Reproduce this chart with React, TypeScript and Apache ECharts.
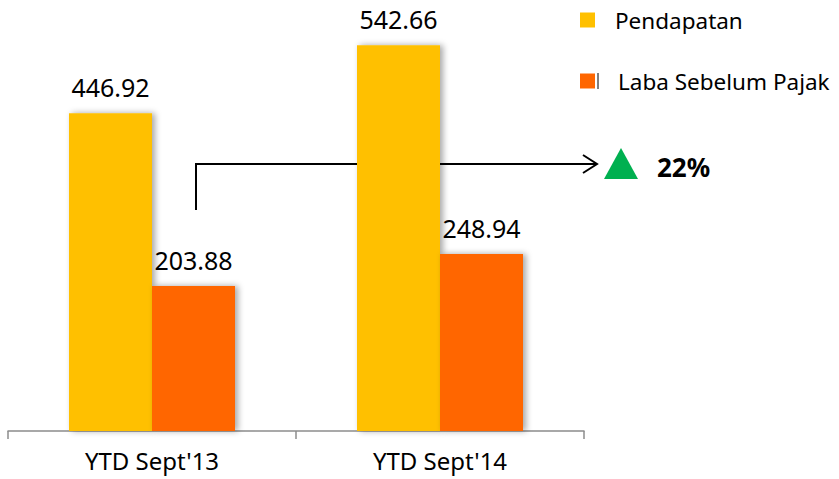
import React, { useEffect, useRef } from "react";
import * as echarts from "echarts";

const categories = ["YTD Sept'13", "YTD Sept'14"];
const pendapatan = [446.92, 542.66];
const labaSebelumPajak = [203.88, 248.94];
const seriesNames = ["Pendapatan", "Laba Sebelum Pajak"];
const growthLabel = "22%";

const FONT = "Noto Sans";

export default function App() {
  const ref = useRef<HTMLDivElement>(null);
  useEffect(() => {
    document.body.style.margin = "0";
    const chart = echarts.init(ref.current!, null, { renderer: "svg" });
    const labelStyle = {
      show: true,
      position: "top" as const,
      distance: 14,
      fontFamily: FONT,
      fontSize: 25,
      color: "#000",
      formatter: (p: any) => p.value.toFixed(2),
    };
    const shadow = {
      shadowBlur: 6,
      shadowOffsetX: 3,
      shadowOffsetY: 0,
      shadowColor: "rgba(0,0,0,0.35)",
    };
    chart.setOption({
      animation: false,
      grid: { left: 8, right: 255, top: 4.5, bottom: 48, containLabel: false },
      xAxis: {
        type: "category",
        data: categories,
        axisLine: { lineStyle: { color: "#8c8c8c", width: 1.5 } },
        axisTick: { show: true, length: 8, lineStyle: { color: "#8c8c8c", width: 1.5 } },
        axisLabel: { fontFamily: FONT, fontSize: 24, color: "#000", margin: 17 },
      },
      yAxis: { type: "value", min: 0, max: 600, show: false, splitLine: { show: false } },
      legend: {
        orient: "vertical",
        left: 575,
        top: 3,
        itemWidth: 15,
        itemHeight: 15,
        itemGap: 37,
        icon: "rect",
        textStyle: { fontFamily: FONT, fontSize: 22.5, color: "#000", lineHeight: 24 },
        data: [
          { name: seriesNames[0], textStyle: { padding: [0, 0, 0, 15] } },
          { name: seriesNames[1], textStyle: { padding: [0, 0, 0, 18] } },
        ],
      },
      series: [
        {
          name: seriesNames[0],
          type: "bar",
          data: pendapatan,
          barWidth: 83,
          barGap: "0%",
          itemStyle: { color: "#FFC000", ...shadow },
          label: labelStyle,
        },
        {
          name: seriesNames[1],
          type: "bar",
          data: labaSebelumPajak,
          barWidth: 83,
          barGap: "0%",
          itemStyle: { color: "#FF6600", ...shadow },
          label: labelStyle,
        },
      ],
      graphic: [
        {
          type: "line",
          shape: { x1: 598, y1: 73, x2: 598, y2: 89 },
          style: { stroke: "#000", lineWidth: 1 },
        },
        {
          type: "polyline",
          shape: { points: [[196, 210], [196, 164], [597, 164]] },
          style: { stroke: "#000", lineWidth: 2, fill: null },
        },
        {
          type: "polyline",
          shape: { points: [[583, 155], [597, 164], [583, 173]] },
          style: { stroke: "#000", lineWidth: 2, fill: null },
        },
        {
          type: "polygon",
          shape: { points: [[604, 179], [621, 148], [638, 179]] },
          style: { fill: "#00B050" },
        },
        {
          type: "text",
          x: 657,
          y: 167,
          style: {
            text: growthLabel,
            fontFamily: FONT,
            fontWeight: "bold",
            fontSize: 26,
            fill: "#000",
            verticalAlign: "middle",
          },
        },
      ],
    });
    return () => chart.dispose();
  }, []);
  return <div ref={ref} style={{ width: 839, height: 479 }} />;
}
